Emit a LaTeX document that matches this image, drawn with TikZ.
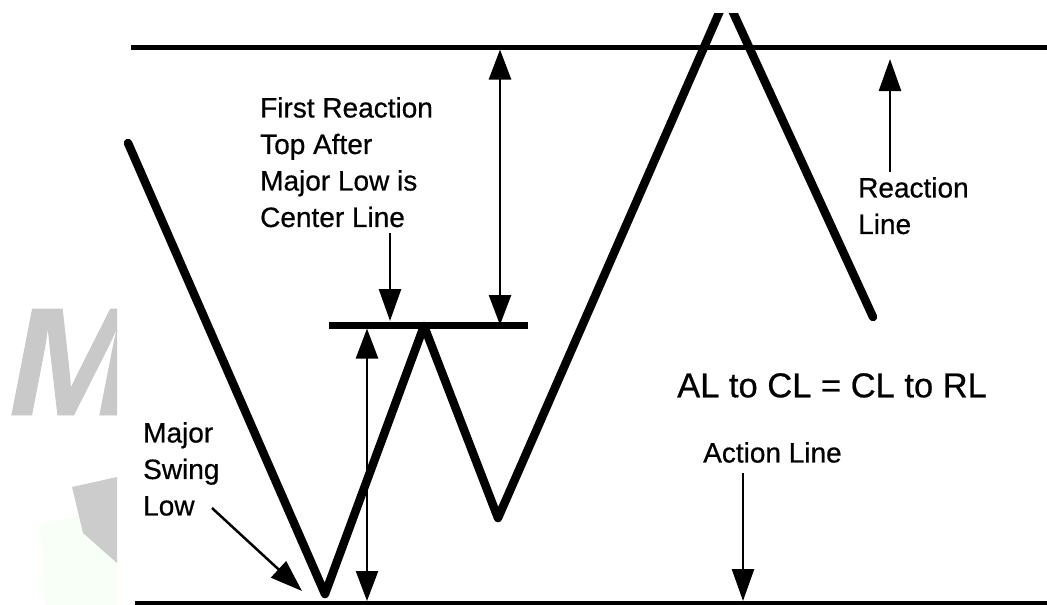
\documentclass[tikz,border=0pt]{standalone}
\usepackage{fontspec}
\setmainfont{Liberation Sans}[FakeBold=0.6]
\usetikzlibrary{arrows.meta}
\begin{document}
\begin{tikzpicture}[x=1pt, y=-1pt,
    every node/.style={font=\fontsize{28}{36.5}\selectfont, inner sep=0pt, align=left},
    price/.style={line width=8.5pt, line cap=round, line join=round},
    level/.style={line width=5pt},
    pointer/.style={line width=2.5pt, -{Triangle[length=32pt, width=22pt]}},
    span/.style={line width=2.5pt, {Triangle[length=30pt, width=22pt]}-{Triangle[length=30pt, width=22pt]}}]
    \useasboundingbox (0,0) rectangle (1047,605);
    % faded logo behind the left margin
    \begin{scope}
        \clip (0,0) rectangle (117,605);
        \fill[green!3] (40,525) -- (117,505) -- (117,605) -- (45,605) -- cycle;
        \fill[black!20] (72,487) -- (117,477) -- (117,563) -- (83,533) -- cycle;
        \node[anchor=base west, text=black!21, font=\fontsize{154}{154}\selectfont\bfseries\itshape] (logo) at (9,415) {M};
    \end{scope}
    % reaction, centre and action lines
    \coordinate (rl-a) at (131,47);   \coordinate (rl-b) at (1047,47);
    \coordinate (cl-a) at (329,325);  \coordinate (cl-b) at (528,325);
    \coordinate (al-a) at (135,603);  \coordinate (al-b) at (1047,603);
    \draw[level] (rl-a) -- (rl-b);
    \draw[level, line width=7pt] (cl-a) -- (cl-b);
    \draw[level] (al-a) -- (al-b);
    % price swings
    \begin{scope}
        \clip (0,13) rectangle (1047,605);
        \draw[price] (128,143) -- (325,594) -- (424,326) -- (498,518) -- (726,-3) -- (873,317);
    \end{scope}
    % labels
    \node[anchor=north west] (first) at (260,97) {First Reaction\\Top After\\Major Low is\\Center Line};
    \node[anchor=north west] (react) at (858,177) {Reaction\\Line};
    \node[anchor=north west] (swing) at (143,422) {Major\\Swing\\Low};
    \node[anchor=north west, font=\fontsize{34.5}{40}\selectfont] (rule) at (677,373) {AL to CL = CL to RL};
    \node[anchor=north west] (action) at (703,442) {Action Line};
    % pointers and spans
    \coordinate (first-out) at (390,233);  \coordinate (first-in) at (390,321);
    \coordinate (react-out) at (890,172);  \coordinate (react-in) at (890,59);
    \coordinate (swing-out) at (212,508);  \coordinate (swing-in) at (302,591);
    \coordinate (action-out) at (743,473); \coordinate (action-in) at (743,601);
    \draw[pointer] (first-out) -- (first-in);
    \draw[pointer] (react-out) -- (react-in);
    \draw[pointer] (swing-out) -- (swing-in);
    \draw[pointer] (action-out) -- (action-in);
    \draw[span] (rl-a -| 500,0) ++(0,2.5) -- (cl-a -| 500,0);
    \draw[span] (367,328.5) -- (367,601);
\end{tikzpicture}
\end{document}
